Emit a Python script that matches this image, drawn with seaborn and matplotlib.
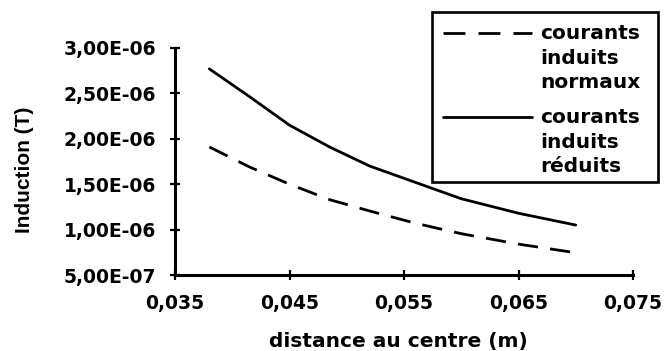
import matplotlib
matplotlib.use("Agg")
import matplotlib.pyplot as plt
import seaborn as sns
import pandas as pd
from matplotlib.ticker import FixedLocator, FuncFormatter
from matplotlib.patches import Rectangle
from matplotlib.lines import Line2D

# Data
distance = [0.038, 0.0415, 0.045, 0.0485, 0.052, 0.056, 0.060, 0.065, 0.070]
induction_normaux = [1.91e-6, 1.69e-6, 1.50e-6, 1.33e-6, 1.205e-6, 1.07e-6, 0.955e-6, 0.84e-6, 0.745e-6]
induction_reduits = [2.77e-6, 2.465e-6, 2.15e-6, 1.91e-6, 1.70e-6, 1.52e-6, 1.34e-6, 1.18e-6, 1.05e-6]
series_labels = ["courants\ninduits\nnormaux", "courants\ninduits\nréduits"]
x_ticks = [0.035, 0.045, 0.055, 0.065, 0.075]
y_ticks = [5e-7, 1e-6, 1.5e-6, 2e-6, 2.5e-6, 3e-6]

df = pd.DataFrame({
    "distance": distance * 2,
    "induction": induction_normaux + induction_reduits,
    "serie": [series_labels[0]] * len(distance) + [series_labels[1]] * len(distance),
})

sns.set_theme(style="white")
plt.rcParams["font.family"] = ["DejaVu Sans"]

W, H = 664, 351
fig = plt.figure(figsize=(W/100, H/100), dpi=100)
ax = fig.add_axes([175/W, 1-275/H, (633-175)/W, (275-48)/H])

DASH = (7.3, 4.4)
sns.lineplot(data=df, x="distance", y="induction", style="serie",
             dashes={series_labels[0]: DASH, series_labels[1]: ""},
             color="black", linewidth=2.0, ax=ax, legend=False)

ax.set_xlim(0.035, 0.075)
ax.set_ylim(5e-7, 3e-6)
ax.xaxis.set_major_locator(FixedLocator(x_ticks))
ax.yaxis.set_major_locator(FixedLocator(y_ticks))
ax.xaxis.set_major_formatter(FuncFormatter(lambda v, p: f"{v:.3f}".replace(".", ",")))

def yfmt(v, p):
    s = f"{v:.2E}"
    mant, exp = s.split("E")
    return f"{mant.replace('.', ',')}E{exp[0]}{exp[1:].zfill(2)}"
ax.yaxis.set_major_formatter(FuncFormatter(yfmt))

for side in ["top", "right"]:
    ax.spines[side].set_visible(False)
for side in ["left", "bottom"]:
    ax.spines[side].set_linewidth(2.2)
    ax.spines[side].set_color("black")
ax.tick_params(axis="both", which="major", bottom=True, left=True,
               direction="inout", length=6.5, width=1.6, color="black",
               labelsize=13.5, labelcolor="black", pad=10.5)
for lab in ax.get_xticklabels() + ax.get_yticklabels():
    lab.set_fontweight("bold")

ax.set_xlabel("distance au centre (m)", fontsize=14.5, fontweight="bold", color="black")
ax.set_ylabel("Induction (T)", fontsize=15, fontweight="bold", color="black",
              family=["Liberation Sans", "DejaVu Sans"])
ax.xaxis.set_label_coords((398.5-175)/458, (275-341)/227)
ax.xaxis.label.set_va("center")
ax.yaxis.set_label_coords((24.5-175)/458, (275-170)/227)
ax.yaxis.label.set_va("center")

# Legend (drawn by hand so handles align with the first text line)
def fx(px):
    return px / W
def fy(py):
    return 1 - py / H

fig.add_artist(Rectangle((fx(432), fy(182)), fx(658) - fx(432), fy(12) - fy(182),
                         transform=fig.transFigure, fill=False, edgecolor="black",
                         linewidth=1.9))
handle_y = [33, 117]
styles = [(7.9, 4.7), None]
for yy, lab, st in zip(handle_y, series_labels, styles):
    ln = Line2D([fx(443), fx(532)], [fy(yy), fy(yy)], transform=fig.transFigure,
                color="black", linewidth=2.0)
    if st is not None:
        ln.set_dashes(st)
    fig.add_artist(ln)
    fig.text(fx(540), fy(yy - 9), lab, ha="left", va="top", fontsize=14.5,
             fontweight="bold", color="black", linespacing=1.38)

fig.savefig("out.png", dpi=100)
